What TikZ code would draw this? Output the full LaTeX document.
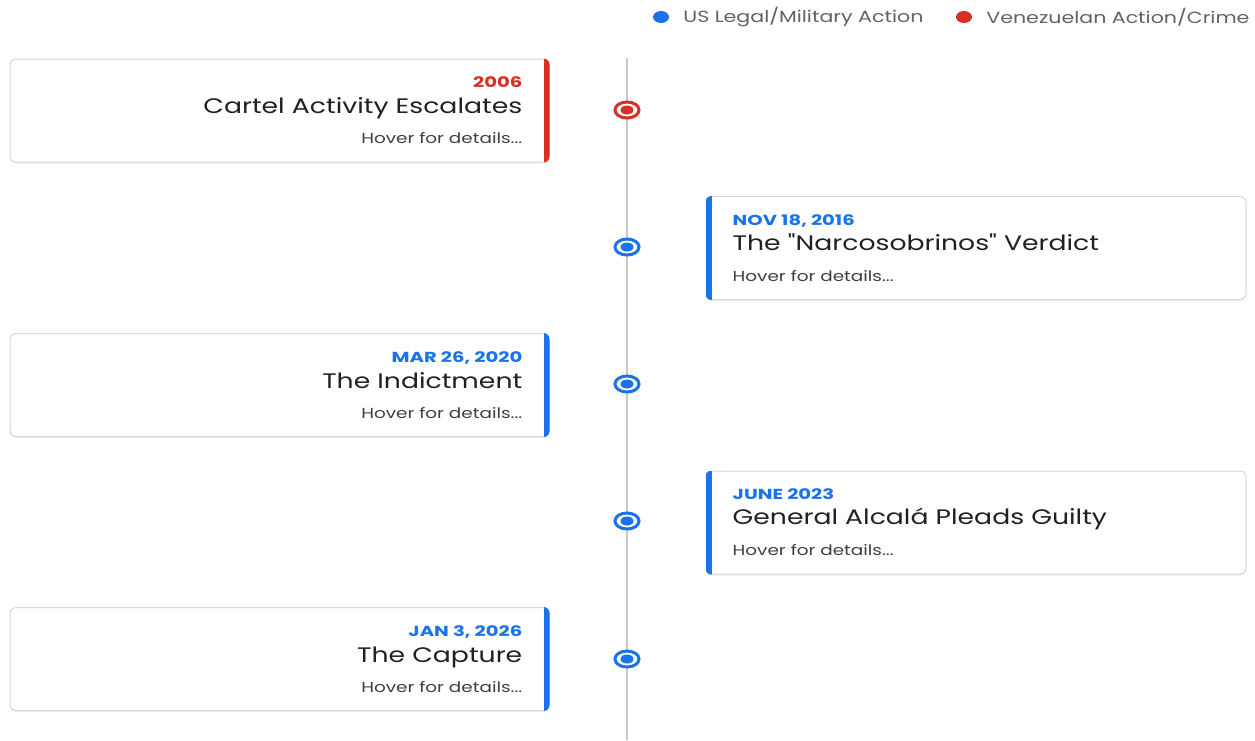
\documentclass[tikz,border=0pt]{standalone}
\usepackage{fontspec}
\setmainfont[FakeStretch=1.27, Ligatures=TeXOff]{Poppins}
\newfontfamily\datefont[FakeStretch=1.35]{Poppins}
\usetikzlibrary{positioning,shapes.geometric,shadows}
\definecolor{usblue}{HTML}{1A73E8}
\definecolor{vzred}{HTML}{D93025}
\definecolor{cardline}{HTML}{D6D8DB}
\definecolor{railgray}{HTML}{C8C8C8}
\definecolor{titleink}{HTML}{202124}
\definecolor{softink}{HTML}{3C4043}
\definecolor{legendink}{HTML}{5F6368}

\tikzset{
  card/.style={draw=cardline, line width=1pt, fill=white, rounded corners=6pt,
    minimum width=539pt, minimum height=103pt, inner sep=0pt,
    drop shadow={shadow xshift=0pt, shadow yshift=-1.5pt, opacity=0.12}},
  datetext/.style={font=\datefont\fontsize{14.5}{15}\selectfont\bfseries, inner sep=0pt},
  titletext/.style={font=\fontsize{21}{23}\selectfont, text=titleink, inner sep=0pt},
  hovertext/.style={font=\fontsize{14.5}{15}\selectfont, text=softink, inner sep=0pt},
  dotring/.style={ellipse, draw=#1, fill=white, line width=3pt,
    minimum width=24pt, minimum height=16pt, inner sep=0pt},
  legdot/.style={ellipse, fill=#1, minimum width=16pt, minimum height=12pt, inner sep=0pt},
  legtext/.style={font=\fontsize{16.2}{17}\selectfont, text=legendink, inner sep=0pt},
  timeline/.style={draw=railgray, line width=2.5pt}
}

\begin{document}
\begin{tikzpicture}[x=1pt,y=-1pt]

  \useasboundingbox (0,0) rectangle (1255,740);

  %Legend
  \node[legdot=usblue] (keyus) at (661,17) {};
  \node[legtext, right=14pt of keyus] (keyustext) {US Legal/Military Action};
  \node[legdot=vzred] (keyvz) at (964,17) {};
  \node[legtext, right=14pt of keyvz] (keyvztext) {Venezuelan Action/Crime};

  %Rail
  \coordinate (railtop) at (627,58);
  \coordinate (railend) at (627,740);
  \draw[timeline] (railtop) -- (railend);

  %Event 1: 2006
  \node[card] (ev1) at (279.5,110.5) {};
  \begin{scope}
    \clip[rounded corners=6pt] (ev1.south west) rectangle (ev1.north east);
    \fill[vzred] ([xshift=-6pt]ev1.south east) rectangle (ev1.north east);
  \end{scope}
  \node[datetext, text=vzred, anchor=base east] (ev1date) at ([xshift=-27pt,yshift=-29pt]ev1.north east) {2006};
  \node[titletext, anchor=base east] (ev1title) at ([xshift=-27pt,yshift=-55pt]ev1.north east) {Cartel Activity Escalates};
  \node[hovertext, anchor=base east] (ev1hover) at ([xshift=-27pt,yshift=-85pt]ev1.north east) {Hover for details...};
  \node[dotring=vzred] (dot1) at (627,110) {};
  \fill[vzred] (dot1.center) ellipse (6.5pt and 4.5pt);

  %Event 2: Nov 18, 2016
  \node[card, minimum width=540pt] (ev2) at (976,248) {};
  \begin{scope}
    \clip[rounded corners=6pt] (ev2.south west) rectangle (ev2.north east);
    \fill[usblue] (ev2.south west) rectangle ([xshift=6pt]ev2.north west);
  \end{scope}
  \node[datetext, text=usblue, anchor=base west] (ev2date) at ([xshift=27pt,yshift=-29pt]ev2.north west) {NOV 18, 2016};
  \node[titletext, anchor=base west] (ev2title) at ([xshift=27pt,yshift=-54pt]ev2.north west) {The "Narcosobrinos" Verdict};
  \node[hovertext, anchor=base west] (ev2hover) at ([xshift=27pt,yshift=-85pt]ev2.north west) {Hover for details...};
  \node[dotring=usblue] (dot2) at (627,247) {};
  \fill[usblue] (dot2.center) ellipse (6.5pt and 4.5pt);

  %Event 3: Mar 26, 2020
  \node[card] (ev3) at (279.5,385) {};
  \begin{scope}
    \clip[rounded corners=6pt] (ev3.south west) rectangle (ev3.north east);
    \fill[usblue] ([xshift=-6pt]ev3.south east) rectangle (ev3.north east);
  \end{scope}
  \node[datetext, text=usblue, anchor=base east] (ev3date) at ([xshift=-27pt,yshift=-29pt]ev3.north east) {MAR 26, 2020};
  \node[titletext, anchor=base east] (ev3title) at ([xshift=-27pt,yshift=-55pt]ev3.north east) {The Indictment};
  \node[hovertext, anchor=base east] (ev3hover) at ([xshift=-27pt,yshift=-85pt]ev3.north east) {Hover for details...};
  \node[dotring=usblue] (dot3) at (627,384) {};
  \fill[usblue] (dot3.center) ellipse (6.5pt and 4.5pt);

  %Event 4: June 2023
  \node[card, minimum width=540pt] (ev4) at (976,522.5) {};
  \begin{scope}
    \clip[rounded corners=6pt] (ev4.south west) rectangle (ev4.north east);
    \fill[usblue] (ev4.south west) rectangle ([xshift=6pt]ev4.north west);
  \end{scope}
  \node[datetext, text=usblue, anchor=base west] (ev4date) at ([xshift=27pt,yshift=-29pt]ev4.north west) {JUNE 2023};
  \node[titletext, anchor=base west] (ev4title) at ([xshift=27pt,yshift=-54pt]ev4.north west) {General Alcalá Pleads Guilty};
  \node[hovertext, anchor=base west] (ev4hover) at ([xshift=27pt,yshift=-85pt]ev4.north west) {Hover for details...};
  \node[dotring=usblue] (dot4) at (627,521) {};
  \fill[usblue] (dot4.center) ellipse (6.5pt and 4.5pt);

  %Event 5: Jan 3, 2026
  \node[card] (ev5) at (279.5,659) {};
  \begin{scope}
    \clip[rounded corners=6pt] (ev5.south west) rectangle (ev5.north east);
    \fill[usblue] ([xshift=-6pt]ev5.south east) rectangle (ev5.north east);
  \end{scope}
  \node[datetext, text=usblue, anchor=base east] (ev5date) at ([xshift=-27pt,yshift=-29pt]ev5.north east) {JAN 3, 2026};
  \node[titletext, anchor=base east] (ev5title) at ([xshift=-27pt,yshift=-55pt]ev5.north east) {The Capture};
  \node[hovertext, anchor=base east] (ev5hover) at ([xshift=-27pt,yshift=-85pt]ev5.north east) {Hover for details...};
  \node[dotring=usblue] (dot5) at (627,659) {};
  \fill[usblue] (dot5.center) ellipse (6.5pt and 4.5pt);

\end{tikzpicture}
\end{document}
